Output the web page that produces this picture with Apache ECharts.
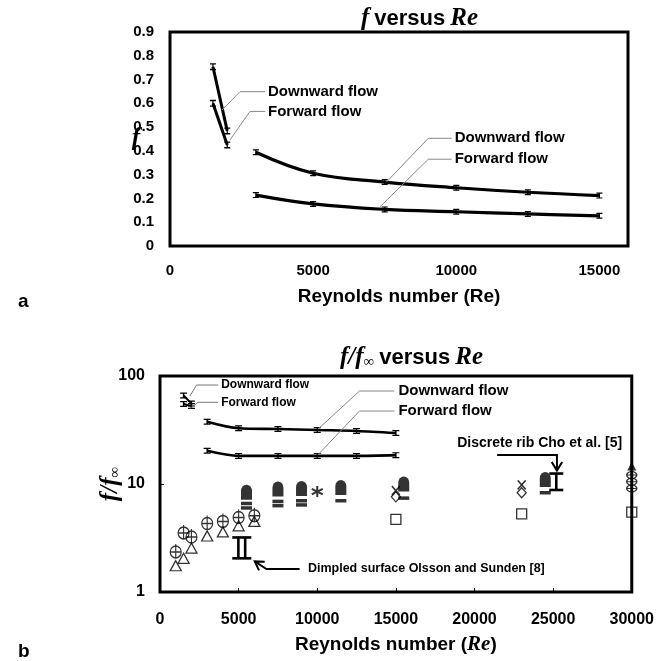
<!DOCTYPE html>
<html><head><meta charset="utf-8">
<script src="https://cdn.jsdelivr.net/npm/echarts@6/dist/echarts.min.js"></script>
<style>html,body{margin:0;padding:0;background:#fff}#c{width:657px;height:661px}</style>
</head><body><div id="c"></div>
<script>
// ---------- Panel a: f versus Re ----------
const reA1 = [1500, 2000];
const reA2 = [3000, 5000, 7500, 10000, 12500, 15000];
const fDown1 = [0.754, 0.484];
const fFwd1 = [0.600, 0.425];
const fDown2 = [0.394, 0.306, 0.269, 0.245, 0.226, 0.212];
const fFwd2 = [0.214, 0.177, 0.154, 0.144, 0.135, 0.127];

// ---------- Panel b: f/f_inf versus Re ----------
const reB1 = [1500, 2000];
const rDown1 = [66, 55.5];
const rFwd1 = [55, 52.7];
const reB2 = [3000, 5000, 7500, 10000, 12500, 15000];
const rDown2 = [37.7, 32.8, 32.3, 31.6, 31.0, 29.7];
const rFwd2 = [20.3, 18.2, 18.2, 18.2, 18.2, 18.5];

const reCirc = [1000, 1500, 2000, 3000, 4000, 5000, 6000];
const vCirc = [2.4, 3.6, 3.3, 4.4, 4.6, 5.0, 5.2];
const reTri = [1000, 1500, 2000, 3000, 4000, 5000, 6000];
const vTri = [1.75, 2.05, 2.55, 3.3, 3.6, 4.1, 4.5];
const reTomb = [5500, 7500, 9000, 11500, 15500, 24500];
const vTomb = [8.4, 9.0, 9.1, 9.3, 10.0, 11.0];
const reDash = [5500, 5500, 7500, 7500, 9000, 9000, 11500, 15500, 24500];
const vDash = [6.6, 6.0, 6.9, 6.3, 7.0, 6.4, 7.0, 7.4, 8.3];
const reStar = [10000];
const vStar = [8.5];
const reX = [15000, 23000];
const vX = [8.7, 9.8];
const reDiam = [15000, 23000];
const vDiam = [7.6, 8.3];
const reSq = [15000, 23000, 30000];
const vSq = [4.7, 5.3, 5.5];
const reTriF = [30000];
const vTriF = [14.7];
const reEll = [30000, 30000, 30000];
const vEll = [12.1, 10.5, 9.1];
const dimpledRe = [5200], dimpledLow = [2.05], dimpledHigh = [3.2];
const choRe = [25200], choLow = [8.8], choHigh = [12.5];

const xTicksA = [0, 5000, 10000, 15000];

const SANS = '"Liberation Sans", Arial, sans-serif';
const SERIF = '"Liberation Serif", "Times New Roman", serif';
const pairs = (xs, ys) => xs.map((x, i) => [x, ys[i]]);

const ERR = 'path://M0,0H10V2H6V8H10V10H0V8H4V2H0Z';
const STROKE = {color: 'rgba(0,0,0,0)', borderColor: '#000', borderWidth: 1.3};
const FILL = {color: '#000'};

function lineS(g, xs, ys, w, smooth, errSize) {
  return {type: 'line', xAxisIndex: g, yAxisIndex: g, data: pairs(xs, ys), smooth: smooth,
    symbol: ERR, symbolSize: errSize, showSymbol: true, itemStyle: {color: '#000'},
    lineStyle: {color: '#000', width: w}, silent: true, z: 3};
}
function scat(xs, ys, symbol, size, style) {
  return {type: 'scatter', xAxisIndex: 1, yAxisIndex: 1, data: pairs(xs, ys), symbol: symbol,
    symbolSize: size, itemStyle: style, clip: false, silent: true, z: 4};
}
function rangeS(xs, lows, highs, bars, halfW) {
  return {type: 'custom', xAxisIndex: 1, yAxisIndex: 1, clip: false, silent: true, z: 4,
    data: xs.map((x, i) => [x, lows[i], highs[i]]), encode: {x: 0, y: [1, 2]},
    renderItem(params, api) {
      const lo = api.coord([api.value(0), api.value(1)]);
      const hi = api.coord([api.value(0), api.value(2)]);
      const cx = lo[0];
      const st = {stroke: '#000', lineWidth: 2.6};
      const ch = [
        {type: 'line', shape: {x1: cx - halfW, y1: lo[1], x2: cx + halfW, y2: lo[1]}, style: st},
        {type: 'line', shape: {x1: cx - halfW, y1: hi[1], x2: cx + halfW, y2: hi[1]}, style: st}
      ];
      const offs = bars === 2 ? [-3.4, 3.4] : [0];
      offs.forEach(o => ch.push({type: 'line', shape: {x1: cx + o, y1: lo[1], x2: cx + o, y2: hi[1]}, style: st}));
      return {type: 'group', children: ch};
    }};
}
function annoS(g, pts, opt) {
  return {type: 'custom', xAxisIndex: g, yAxisIndex: g, clip: false, silent: true, z: 6,
    data: [pts[0]],
    renderItem(params, api) {
      const P = pts.map(p => api.coord(p));
      const ch = [];
      if (P.length > 1) {
        ch.push({type: 'polyline', shape: {points: P}, style: {stroke: opt.color, lineWidth: opt.width, fill: 'none'}});
      }
      if (opt.arrow) {
        const a = P[P.length - 2], b = P[P.length - 1];
        const ang = Math.atan2(b[1] - a[1], b[0] - a[0]);
        const L = 10, s = 0.55;
        const p1 = [b[0] - L * Math.cos(ang - s), b[1] - L * Math.sin(ang - s)];
        const p2 = [b[0] - L * Math.cos(ang + s), b[1] - L * Math.sin(ang + s)];
        ch.push({type: 'polyline', shape: {points: [p1, b, p2]}, style: {stroke: opt.color, lineWidth: opt.width, fill: 'none'}});
      }
      if (opt.text) {
        ch.push({type: 'text', style: {text: opt.text, x: P[0][0] + (opt.dx || 0), y: P[0][1],
          font: opt.font, fill: '#000', align: 'left', verticalAlign: 'middle'}});
      }
      return {type: 'group', children: ch};
    }};
}

const titleRich = {
  i: {fontFamily: SERIF, fontStyle: 'italic', fontWeight: 'bold', fontSize: 25, color: '#000'},
  b: {fontFamily: SANS, fontWeight: 'bold', fontSize: 22, color: '#000'},
  s: {fontFamily: SERIF, fontStyle: 'italic', fontWeight: 'bold', fontSize: 15, color: '#000', verticalAlign: 'bottom'}
};

const option = {
  animation: false,
  backgroundColor: '#fff',
  title: [
    {text: '{i|f} {b|versus} {i|Re}', left: 356, top: 1, textStyle: {rich: titleRich}},
    {text: '{i|f/f}{s|∞} {b|versus} {i|Re}', left: 335, top: 340, textStyle: {rich: titleRich}},
    {text: 'a', left: 13, top: 287, textStyle: {fontFamily: SANS, fontWeight: 'bold', fontSize: 19, color: '#000'}},
    {text: 'b', left: 13, top: 637, textStyle: {fontFamily: SANS, fontWeight: 'bold', fontSize: 19, color: '#000'}}
  ],
  grid: [
    {left: 170, top: 32, width: 458, height: 214, show: true, borderColor: '#000', borderWidth: 3},
    {left: 160, top: 376, width: 473, height: 216, show: true, borderColor: '#000', borderWidth: 3}
  ],
  xAxis: [
    {gridIndex: 0, type: 'value', min: 0, max: 16000, interval: 5000,
      axisLine: {show: false}, axisTick: {show: false}, splitLine: {show: false},
      axisLabel: {margin: 17, color: '#000', fontFamily: SANS, fontWeight: 'bold', fontSize: 15,
        formatter: v => xTicksA.indexOf(v) >= 0 ? String(v) : ''},
      name: 'Reynolds number (Re)', nameLocation: 'middle', nameGap: 41, nameMoveOverlap: false,
      nameTextStyle: {color: '#000', fontFamily: SANS, fontWeight: 'bold', fontSize: 19}},
    {gridIndex: 1, type: 'value', min: 0, max: 30000, interval: 5000,
      axisLine: {show: false}, axisTick: {show: true, inside: true, length: 4, lineStyle: {color: '#000', width: 1}},
      splitLine: {show: false},
      axisLabel: {margin: 20, color: '#000', fontFamily: SANS, fontWeight: 'bold', fontSize: 16,
        formatter: v => String(v)},
      name: '{b|Reynolds number (}{i|Re}{b|)}', nameLocation: 'middle', nameGap: 42, nameMoveOverlap: false,
      nameTextStyle: {rich: {
        b: {color: '#000', fontFamily: SANS, fontWeight: 'bold', fontSize: 19},
        i: {color: '#000', fontFamily: SERIF, fontStyle: 'italic', fontWeight: 'bold', fontSize: 21}}}}
  ],
  yAxis: [
    {gridIndex: 0, type: 'value', min: 0, max: 0.9, interval: 0.1,
      axisLine: {show: false}, axisTick: {show: false}, splitLine: {show: false},
      axisLabel: {margin: 16, color: '#000', fontFamily: SANS, fontWeight: 'bold', fontSize: 15,
        formatter: v => v === 0 ? '0' : v.toFixed(1)},
      name: 'f', nameLocation: 'middle', nameGap: 30, nameRotate: 0, nameMoveOverlap: false,
      nameTextStyle: {color: '#000', fontFamily: SERIF, fontStyle: 'italic', fontWeight: 'bold', fontSize: 25}},
    {gridIndex: 1, type: 'log', logBase: 10, min: 1, max: 100,
      axisLine: {show: false}, axisTick: {show: true, inside: true, length: 4, lineStyle: {color: '#000', width: 1}},
      splitLine: {show: false}, minorTick: {show: false},
      axisLabel: {margin: 15, color: '#000', fontFamily: SANS, fontWeight: 'bold', fontSize: 16},
      name: '{i|f/f}{s|∞}', nameLocation: 'middle', nameGap: 37, nameRotate: 90, nameMoveOverlap: false,
      nameTextStyle: {rich: {
        i: {fontFamily: SERIF, fontStyle: 'italic', fontWeight: 'bold', fontSize: 25, color: '#000'},
        s: {fontFamily: SERIF, fontStyle: 'italic', fontWeight: 'bold', fontSize: 15, color: '#000', verticalAlign: 'bottom'}}}}
  ],
  series: [
    lineS(0, reA1, fDown1, 3, false, [6, 7]),
    lineS(0, reA1, fFwd1, 3, false, [6, 7]),
    lineS(0, reA2, fDown2, 3.2, 0.4, [6, 6]),
    lineS(0, reA2, fFwd2, 3.2, 0.4, [6, 6]),
    lineS(1, reB1, rDown1, 2, false, [7, 6]),
    lineS(1, reB1, rFwd1, 2, false, [7, 6]),
    lineS(1, reB2, rDown2, 2.6, 0.3, [7, 6]),
    lineS(1, reB2, rFwd2, 2.6, 0.3, [7, 6]),

    scat(reCirc, vCirc, 'path://M0,8A6,6 0 1 1 12,8A6,6 0 1 1 0,8Z M6,0V14 M0,8H12', [11, 14], STROKE),
    scat(reTri, vTri, 'path://M5,0L10,9L0,9Z', [11, 10], STROKE),
    scat(reTomb, vTomb, 'path://M0,12V5A5,5 0 0 1 10,5V12Z', [11, 15], FILL),
    scat(reDash, vDash, 'rect', [11, 3.5], FILL),
    scat(reStar, vStar, 'path://M5,0V10M0.7,2.5L9.3,7.5M0.7,7.5L9.3,2.5', [11, 11], {color: 'rgba(0,0,0,0)', borderColor: '#000', borderWidth: 2}),
    scat(reX, vX, 'path://M0,0L10,10M10,0L0,10', [8, 9], {color: 'rgba(0,0,0,0)', borderColor: '#000', borderWidth: 1.6}),
    scat(reDiam, vDiam, 'diamond', [9, 10], STROKE),
    scat(reSq, vSq, 'rect', [10, 10], STROKE),
    scat(reTriF, vTriF, 'triangle', [9, 9], FILL),
    scat(reEll, vEll, 'path://M0,4A6,4 0 1 1 12,4A6,4 0 1 1 0,4Z M0,4H12', [10, 7], STROKE),

    rangeS(dimpledRe, dimpledLow, dimpledHigh, 2, 9.5),
    rangeS(choRe, choLow, choHigh, 1, 7),

    annoS(0, [[3319, 0.649], [2445, 0.649], [1817, 0.572]], {text: 'Downward flow', color: '#888', width: 1, dx: 3, font: 'bold 15px ' + SANS}),
    annoS(0, [[3319, 0.566], [2795, 0.566], [2096, 0.446]], {text: 'Forward flow', color: '#888', width: 1, dx: 3, font: 'bold 15px ' + SANS}),
    annoS(0, [[9840, 0.453], [9023, 0.453], [7570, 0.270]], {text: 'Downward flow', color: '#888', width: 1, dx: 3, font: 'bold 15px ' + SANS}),
    annoS(0, [[9840, 0.365], [9023, 0.365], [7336, 0.165]], {text: 'Forward flow', color: '#888', width: 1, dx: 3, font: 'bold 15px ' + SANS}),

    annoS(1, [[3698, 82.5], [2327, 82.5], [1903, 65.3]], {text: 'Downward flow', color: '#777', width: 1, dx: 3, font: 'bold 12px ' + SANS}),
    annoS(1, [[3698, 57.1], [2429, 57.1], [1903, 50.2]], {text: 'Forward flow', color: '#777', width: 1, dx: 3, font: 'bold 12px ' + SANS}),
    annoS(1, [[14905, 72.6], [12685, 72.6], [10040, 32.1]], {text: 'Downward flow', color: '#888', width: 1, dx: 4, font: 'bold 15px ' + SANS}),
    annoS(1, [[14905, 47.4], [12685, 47.4], [10040, 18.6]], {text: 'Forward flow', color: '#888', width: 1, dx: 4, font: 'bold 15px ' + SANS}),
    annoS(1, [[18900, 24.0]], {text: 'Discrete rib Cho et al. [5]', color: '#000', width: 1, dx: 0, font: 'bold 14px ' + SANS}),
    annoS(1, [[21437, 18.6], [25242, 18.6], [25242, 13.3]], {arrow: true, color: '#000', width: 2}),
    annoS(1, [[9406, 1.633]], {text: 'Dimpled surface Olsson and Sunden [8]', color: '#000', width: 1, dx: 0, font: 'bold 12.5px ' + SANS}),
    annoS(1, [[8879, 1.633], [6767, 1.633], [6025, 1.92]], {arrow: true, color: '#000', width: 2})
  ]
};
const chart = echarts.init(document.getElementById('c'));
chart.setOption(option);
</script>
</body></html>
